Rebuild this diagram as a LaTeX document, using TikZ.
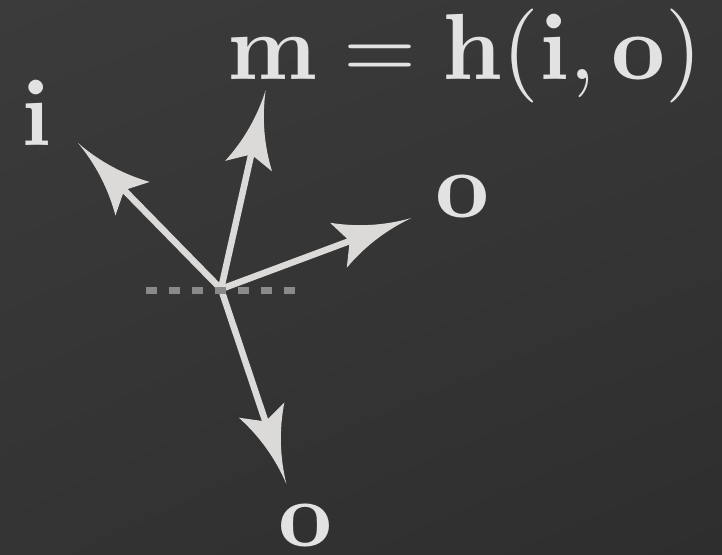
\documentclass[tikz,border=0pt]{standalone}
\usetikzlibrary{arrows.meta,shadings}
\definecolor{bgA}{HTML}{3B3B3B}
\definecolor{bgB}{HTML}{373737}
\definecolor{bgC}{HTML}{333333}
\definecolor{bgD}{HTML}{2E2E2E}
\definecolor{arrowc}{HTML}{DCDAD8}
\definecolor{textc}{HTML}{E2E2E2}
\definecolor{dashc}{HTML}{8A8A8A}
\newcommand{\bigtxt}[1]{\scalebox{9.4}{#1}}
\pgfdeclarearrow{
  name=AsyHead,
  setup code={
    \pgfarrowssettipend{0pt}
    \pgfarrowssetlineend{-62pt}
    \pgfarrowssetbackend{-78pt}
    \pgfarrowssetvisualbackend{-66pt}
    \pgfarrowshullpoint{0pt}{0pt}
    \pgfarrowshullpoint{-78pt}{24pt}
    \pgfarrowshullpoint{-78pt}{-24pt}
  },
  drawing code={
    \pgfpathmoveto{\pgfpoint{0pt}{0pt}}
    \pgfpathcurveto{\pgfpoint{-27.8pt}{2.3pt}}{\pgfpoint{-53.8pt}{10.3pt}}{\pgfpoint{-78pt}{24pt}}
    \pgfpathlineto{\pgfpoint{-66pt}{0pt}}
    \pgfpathlineto{\pgfpoint{-78pt}{-24pt}}
    \pgfpathcurveto{\pgfpoint{-53.8pt}{-10.3pt}}{\pgfpoint{-27.8pt}{-2.3pt}}{\pgfpoint{0pt}{0pt}}
    \pgfpathclose
    \pgfusepathqfill
  }
}
\tikzset{
  vec/.style={draw=arrowc, fill=arrowc, line width=6.5pt, -{AsyHead}},
  dashline/.style={draw=dashc, line width=7pt, dash pattern=on 11.3pt off 11.7pt},
  lab/.style={text=textc, inner sep=0pt}
}
\begin{document}
\begin{tikzpicture}[x=1pt,y=-1pt]
\shade[upper left=bgA, upper right=bgB, lower left=bgC, lower right=bgD] (0,0) rectangle (722,554);
\useasboundingbox (0,0) rectangle (722,554);
\coordinate (c) at (221,289);
\coordinate (ti) at (78,143);
\coordinate (tm) at (265.7,90);
\coordinate (to) at (411.5,218);
\coordinate (tb) at (286.4,484);
\coordinate (dl) at (146,290);
\coordinate (dr) at (295.3,290);
\path[vec] (c) -- (ti);
\path[vec] (c) -- (tm);
\path[vec] (c) -- (to);
\path[vec] (c) -- (tb);
\draw[dashline] (dl) -- (dr);
\node[lab, anchor=base west] (eq) at (227,79) {\bigtxt{$\mathbf{m}=\mathbf{h}(\mathbf{i},\mathbf{o})$}};
\node[lab, anchor=base] (li) at (37,145) {\bigtxt{$\mathbf{i}$}};
\node[lab, anchor=base] (lo) at (463,217) {\bigtxt{$\mathbf{o}$}};
\node[lab, anchor=base] (lb) at (306,546) {\bigtxt{$\mathbf{o}$}};
\end{tikzpicture}
\end{document}
